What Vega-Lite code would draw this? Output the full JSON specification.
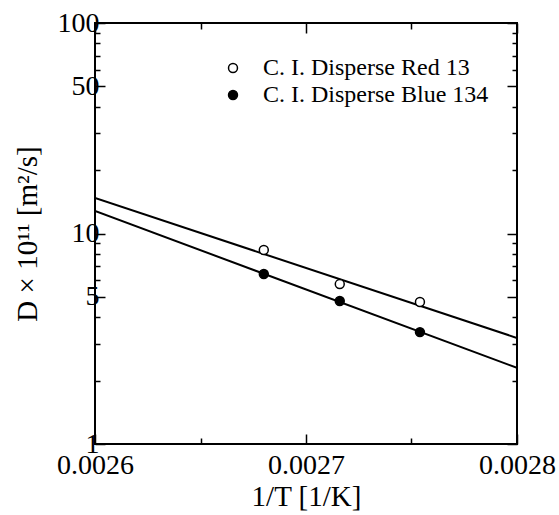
{
  "$schema": "https://vega.github.io/schema/vega-lite/v6.json",
  "width": 422,
  "height": 421,
  "autosize": {"type": "none"},
  "padding": {"left": 95, "top": 23, "right": 42, "bottom": 71},
  "background": "white",
  "config": {
    "view": {"stroke": "black", "strokeWidth": 2},
    "font": "Liberation Serif",
    "axis": {
      "domain": false,
      "grid": false,
      "tickColor": "black",
      "tickWidth": 1.5,
      "labelColor": "black",
      "titleColor": "black",
      "labelFont": "Liberation Serif",
      "labelFontSize": 28,
      "titleFont": "Liberation Serif",
      "titleFontSize": 29,
      "titleFontWeight": "normal"
    },
    "legend": {
      "labelFont": "Liberation Serif",
      "labelFontSize": 24,
      "labelColor": "black",
      "labelLimit": 0
    }
  },
  "datasets": {
    "points": [
      {"invT": 0.00268, "D": 8.35, "series": "C. I. Disperse Red 13"},
      {"invT": 0.002716, "D": 5.75, "series": "C. I. Disperse Red 13"},
      {"invT": 0.002754, "D": 4.73, "series": "C. I. Disperse Red 13"},
      {"invT": 0.00268, "D": 6.42, "series": "C. I. Disperse Blue 134"},
      {"invT": 0.002716, "D": 4.78, "series": "C. I. Disperse Blue 134"},
      {"invT": 0.002754, "D": 3.4, "series": "C. I. Disperse Blue 134"}
    ],
    "fits": [
      {"invT": 0.0026, "D": 14.75, "series": "C. I. Disperse Red 13"},
      {"invT": 0.0028, "D": 3.19, "series": "C. I. Disperse Red 13"},
      {"invT": 0.0026, "D": 12.79, "series": "C. I. Disperse Blue 134"},
      {"invT": 0.0028, "D": 2.3, "series": "C. I. Disperse Blue 134"}
    ]
  },
  "layer": [
    {
      "data": {"name": "fits"},
      "mark": {"type": "line", "color": "black", "strokeWidth": 2, "clip": true},
      "encoding": {
        "x": {
          "field": "invT", "type": "quantitative",
          "scale": {"domain": [0.0026, 0.0028], "nice": false, "zero": false},
          "axis": {"orient": "bottom", "values": [0.0026, 0.0027, 0.0028], "tickSize": -10, "format": ".4f", "labelPadding": 17, "title": "1/T [1/K]", "titlePadding": 3, "labelFlush": false, "labelOverlap": false}
        },
        "y": {
          "field": "D", "type": "quantitative",
          "scale": {"type": "log", "domain": [1, 100], "nice": false},
          "axis": {"orient": "left", "values": [1, 5, 10, 50, 100], "tickSize": -10, "format": "d", "labelPadding": 6, "title": "D × 10¹¹ [m²/s]", "titlePadding": 15, "labelOverlap": false}
        },
        "detail": {"field": "series", "type": "nominal"}
      }
    },
    {
      "data": {"name": "points"},
      "mark": {"type": "point", "shape": "circle", "filled": true, "size": 80, "stroke": "black", "strokeWidth": 1.5, "opacity": 1},
      "encoding": {
        "x": {
          "field": "invT", "type": "quantitative",
          "axis": {"orient": "bottom", "values": [0.00265, 0.00275], "tickSize": -6, "labels": false, "title": null}
        },
        "y": {
          "field": "D", "type": "quantitative",
          "axis": {"orient": "left", "values": [2, 3, 4, 6, 7, 8, 9, 20, 30, 40, 60, 70, 80, 90], "tickSize": -5, "labels": false, "title": null}
        },
        "fill": {
          "field": "series", "type": "nominal",
          "scale": {"domain": ["C. I. Disperse Red 13", "C. I. Disperse Blue 134"], "range": ["white", "black"]},
          "legend": {
            "title": null,
            "orient": "none",
            "legendX": 126,
            "legendY": 33,
            "padding": 0,
            "symbolType": "circle",
            "symbolSize": 80,
            "symbolStrokeColor": "black",
            "symbolStrokeWidth": 1.5,
            "symbolOpacity": 1,
            "labelOffset": 18,
            "rowPadding": 3
          }
        }
      }
    },
    {
      "data": {"name": "points"},
      "mark": {"type": "point", "opacity": 0},
      "encoding": {
        "x": {
          "field": "invT", "type": "quantitative",
          "axis": {"orient": "top", "values": [0.0026, 0.0027, 0.0028], "tickSize": -10, "labels": false, "title": null}
        },
        "y": {
          "field": "D", "type": "quantitative",
          "axis": {"orient": "right", "values": [1, 5, 10, 50, 100], "tickSize": -10, "labels": false, "title": null}
        }
      }
    },
    {
      "data": {"name": "points"},
      "mark": {"type": "point", "opacity": 0},
      "encoding": {
        "x": {
          "field": "invT", "type": "quantitative",
          "axis": {"orient": "top", "values": [0.00265, 0.00275], "tickSize": -6, "labels": false, "title": null}
        },
        "y": {
          "field": "D", "type": "quantitative",
          "axis": {"orient": "right", "values": [2, 3, 4, 6, 7, 8, 9, 20, 30, 40, 60, 70, 80, 90], "tickSize": -5, "labels": false, "title": null}
        }
      }
    }
  ],
  "resolve": {"axis": {"x": "independent", "y": "independent"}}
}
